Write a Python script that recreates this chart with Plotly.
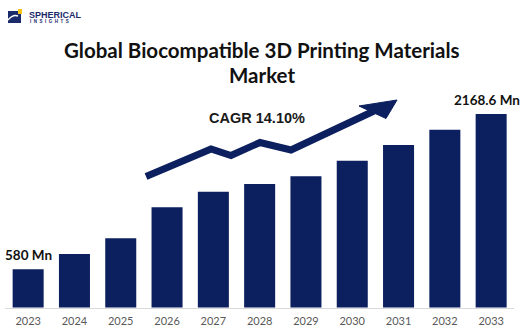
import plotly.graph_objects as go

# Market size by year (USD million)
years = ["2023", "2024", "2025", "2026", "2027", "2028",
         "2029", "2030", "2031", "2032", "2033"]
market_size = [580, 737, 897, 1214, 1374, 1453, 1531, 1691, 1852, 2008, 2168.6]

# Value labels shown above the first and last bars
labelled_years = ["2023", "2033"]
labelled_text = ["580 Mn", "2168.6 Mn"]
label_xshift = [0, -4]

title_lines = ["Global Biocompatible 3D Printing Materials", "Market"]
cagr_text = "CAGR 14.10%"

NAVY = "#0c1f5e"
W, H = 520, 330


def px(x):
    return x / W


def py(y):
    return 1 - y / H


fig = go.Figure(
    go.Bar(x=years, y=market_size, marker=dict(color=NAVY, line=dict(width=0)),
           hoverinfo="skip")
)

# Decorative growth arrow (figure pixel coordinates)
arrow_line = [(146, 176.5), (211, 149), (231, 155.5), (260, 142.5),
              (291, 150), (374, 111)]
arrow_head = [(397, 100), (359, 106), (386, 118.5)]

shapes = []
path = "M " + " L ".join(f"{px(x):.4f},{py(y):.4f}" for x, y in arrow_line)
shapes.append(dict(type="path", path=path, xref="paper", yref="paper",
                   line=dict(color=NAVY, width=7), layer="above"))
head = "M " + " L ".join(f"{px(x):.4f},{py(y):.4f}" for x, y in arrow_head) + " Z"
shapes.append(dict(type="path", path=head, xref="paper", yref="paper",
                   fillcolor=NAVY, line=dict(color=NAVY, width=1), layer="above"))

# Logo mark
shapes.append(dict(type="rect", xref="paper", yref="paper",
                   x0=px(8), x1=px(21), y0=py(23), y1=py(11),
                   fillcolor="#1b2a6b", line=dict(width=0)))
shapes.append(dict(type="path", xref="paper", yref="paper",
                   path=f"M {px(8)},{py(20)} Q {px(13)},{py(14)} {px(18)},{py(16)}",
                   line=dict(color="white", width=1.5)))
shapes.append(dict(type="rect", xref="paper", yref="paper",
                   x0=px(18), x1=px(22), y0=py(14), y1=py(9),
                   fillcolor="#f2c418", line=dict(width=0)))
shapes.append(dict(type="rect", xref="paper", yref="paper",
                   x0=px(18.5), x1=px(21), y0=py(23), y1=py(16),
                   fillcolor="#1b2a6b", line=dict(width=0)))

annotations = []
title_font = dict(family="Lato", size=20.5, color="#111111")
annotations.append(dict(text=f"<b>{title_lines[0]}</b>", x=px(262), y=py(50),
                        xref="paper", yref="paper", showarrow=False,
                        font=title_font, xanchor="center", yanchor="middle"))
annotations.append(dict(text=f"<b>{title_lines[1]}</b>", x=px(262), y=py(75),
                        xref="paper", yref="paper", showarrow=False,
                        font=title_font, xanchor="center", yanchor="middle"))
annotations.append(dict(text=f"<b>{cagr_text}</b>", x=px(256.5), y=py(118),
                        xref="paper", yref="paper", showarrow=False,
                        font=dict(family="Liberation Sans", size=14.5, color="#1a1a1a"),
                        xanchor="center", yanchor="middle"))
for yr, txt, dx in zip(labelled_years, labelled_text, label_xshift):
    i = years.index(yr)
    annotations.append(dict(text=f"<b>{txt}</b>", x=i, y=market_size[i],
                            xref="x", yref="y", showarrow=False,
                            yshift=4, xshift=dx,
                            font=dict(family="Lato", size=13.5, color="#111111"),
                            xanchor="center", yanchor="bottom"))

# Logo wordmark
annotations.append(dict(text="<b>SPHERICAL</b>", x=px(27), y=py(14.5),
                        xref="paper", yref="paper", showarrow=False,
                        font=dict(family="Liberation Sans", size=9, color="#1b2a6b"),
                        xanchor="left", yanchor="middle"))
annotations.append(dict(text="<b>I  N  S  I  G  H  T  S</b>", x=px(28), y=py(22),
                        xref="paper", yref="paper", showarrow=False,
                        font=dict(family="Liberation Sans", size=4.5, color="#1b2a6b"),
                        xanchor="left", yanchor="middle"))

units_per_px = 10.229
y_floor = 189.3
axis_bottom_px = 307.5

fig.update_layout(
    width=W, height=H,
    margin=dict(l=0, r=0, t=0, b=0),
    paper_bgcolor="white", plot_bgcolor="white",
    bargap=0.33,
    showlegend=False,
    shapes=shapes,
    annotations=annotations,
    xaxis=dict(domain=[px(5), px(514.3)], type="category",
               categoryorder="array", categoryarray=years,
               range=[-0.5, len(years) - 0.5], autorange=False,
               showline=True, linecolor="#d9d9d9", linewidth=1,
               showgrid=False, ticks="", zeroline=False,
               ticklabelstandoff=3,
               tickfont=dict(family="Lato", size=11, color="#595959")),
    yaxis=dict(domain=[py(axis_bottom_px), 1],
               range=[y_floor, y_floor + axis_bottom_px * units_per_px],
               autorange=False,
               visible=False, showgrid=False, zeroline=False),
)

fig.write_html("out.html")
